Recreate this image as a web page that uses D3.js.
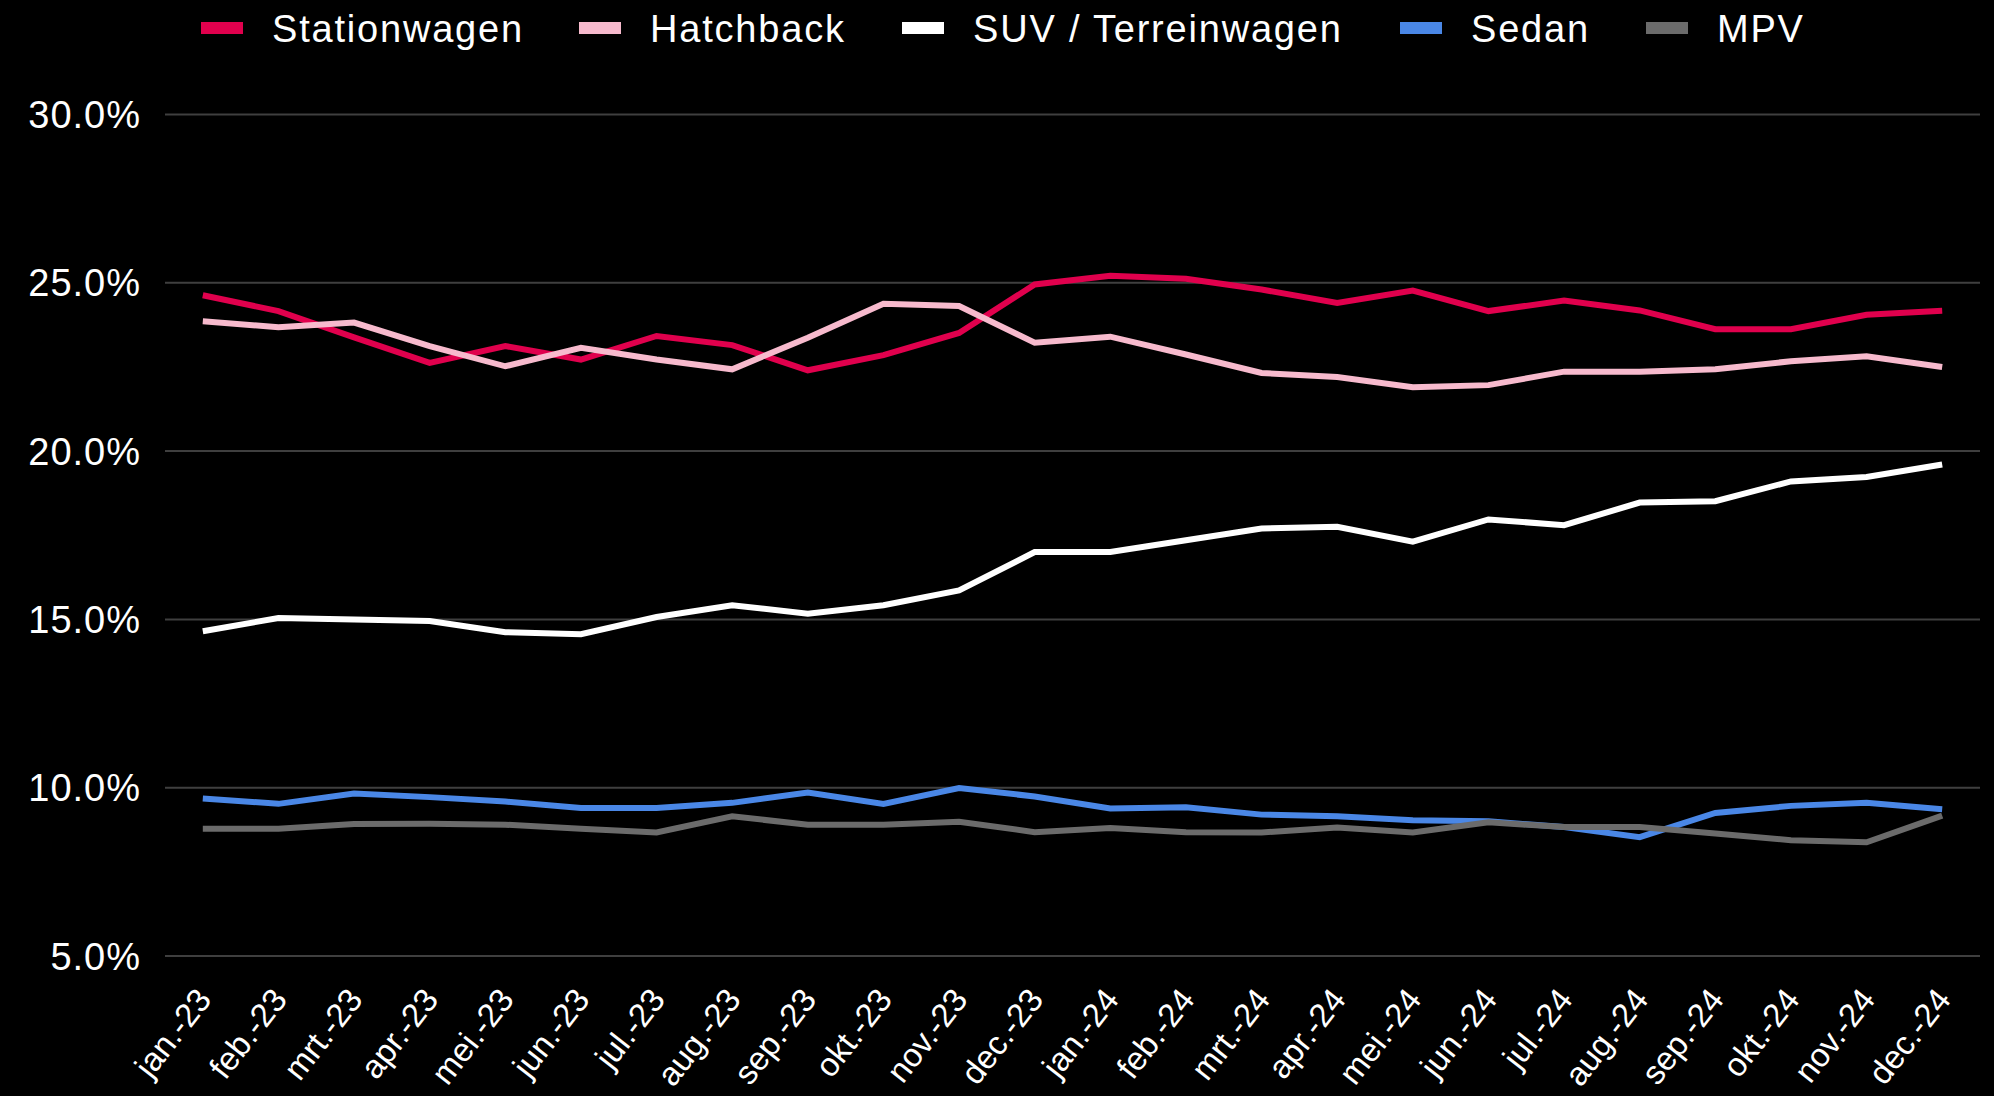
<!DOCTYPE html>
<html>
<head>
<meta charset="utf-8">
<script src="https://cdn.jsdelivr.net/npm/d3@7"></script>
<style>
  html, body { margin: 0; padding: 0; background: #000; }
  svg text { font-family: "Liberation Sans", Arial, sans-serif; fill: #fff; }
</style>
</head>
<body>
<div id="chart"></div>
<script>
const months = ["jan.-23","feb.-23","mrt.-23","apr.-23","mei.-23","jun.-23","jul.-23","aug.-23","sep.-23","okt.-23","nov.-23","dec.-23",
                "jan.-24","feb.-24","mrt.-24","apr.-24","mei.-24","jun.-24","jul.-24","aug.-24","sep.-24","okt.-24","nov.-24","dec.-24"];

const stationwagen = [24.63,24.16,23.38,22.62,23.12,22.72,23.42,23.15,22.40,22.85,23.51,24.95,
                      25.21,25.12,24.80,24.40,24.77,24.16,24.47,24.18,23.62,23.62,24.05,24.17];
const hatchback    = [23.86,23.68,23.82,23.12,22.52,23.07,22.72,22.43,23.37,24.38,24.31,23.22,
                      23.40,22.87,22.32,22.20,21.90,21.96,22.36,22.36,22.43,22.67,22.82,22.50];
const suv          = [14.65,15.04,15.00,14.95,14.62,14.56,15.07,15.42,15.17,15.42,15.86,17.00,
                      17.00,17.35,17.70,17.75,17.31,17.97,17.80,18.47,18.51,19.10,19.23,19.60];
const sedan        = [9.68,9.52,9.83,9.72,9.59,9.40,9.40,9.55,9.86,9.52,9.99,9.74,
                      9.38,9.42,9.20,9.15,9.03,9.00,8.83,8.53,9.25,9.46,9.55,9.36];
const mpv          = [8.78,8.78,8.92,8.93,8.90,8.78,8.67,9.15,8.90,8.90,8.99,8.68,
                      8.80,8.68,8.67,8.82,8.67,8.97,8.83,8.83,8.64,8.44,8.38,9.17];

const seriesNames = ["Stationwagen","Hatchback","SUV / Terreinwagen","Sedan","MPV"];
const seriesColors = ["#e0004d","#f7bacd","#ffffff","#4a87e6","#6b6b6b"];
const yTicks = [5,10,15,20,25,30];

const allSeries = [stationwagen, hatchback, suv, sedan, mpv];

const width = 1994, height = 1096;
const plot = {left: 165, right: 1980, top: 114.5, bottom: 956};

const svg = d3.select("#chart").append("svg")
  .attr("width", width)
  .attr("height", height);

const x = d3.scalePoint()
  .domain(months)
  .range([plot.left, plot.right])
  .padding(0.5);

const y = d3.scaleLinear()
  .domain([5, 30])
  .range([plot.bottom, plot.top]);

// gridlines + y labels
const yAxis = svg.append("g");
yAxis.selectAll("line")
    .data(yTicks)
  .enter().append("line")
    .attr("x1", plot.left)
    .attr("x2", plot.right)
    .attr("y1", d => y(d))
    .attr("y2", d => y(d))
    .attr("stroke", "#3f3f3f")
    .attr("stroke-width", 2);
yAxis.selectAll("text")
    .data(yTicks)
  .enter().append("text")
    .attr("x", 141)
    .attr("y", d => y(d))
    .attr("dy", "0.36em")
    .attr("text-anchor", "end")
    .style("font-size", "38px")
    .style("letter-spacing", "1px")
    .text(d => d.toFixed(1) + "%");

// x labels, steeply rotated
svg.append("g").selectAll("text")
    .data(months)
  .enter().append("text")
    .attr("transform", d => "translate(" + (x(d) + 10) + ",1000) rotate(-52)")
    .attr("text-anchor", "end")
    .style("font-size", "33px")
    .text(d => d);

// lines
const line = d3.line()
  .x((d, i) => x(months[i]))
  .y(d => y(d));

svg.append("g").selectAll("path")
    .data(allSeries)
  .enter().append("path")
    .attr("d", line)
    .attr("fill", "none")
    .attr("stroke", (d, i) => seriesColors[i])
    .attr("stroke-width", 6)
    .attr("stroke-linejoin", "miter");

// legend
const legendX = [201, 579, 902, 1400, 1646];
const legend = svg.append("g").selectAll("g")
    .data(seriesNames)
  .enter().append("g")
    .attr("transform", (d, i) => "translate(" + legendX[i] + ",28)");
legend.append("rect")
  .attr("x", 0)
  .attr("y", -6)
  .attr("width", 42)
  .attr("height", 12)
  .attr("fill", (d, i) => seriesColors[i]);
legend.append("text")
  .attr("x", 71)
  .attr("dy", "0.36em")
  .style("font-size", "38px")
  .style("letter-spacing", "1.8px")
  .text(d => d);
</script>
</body>
</html>
